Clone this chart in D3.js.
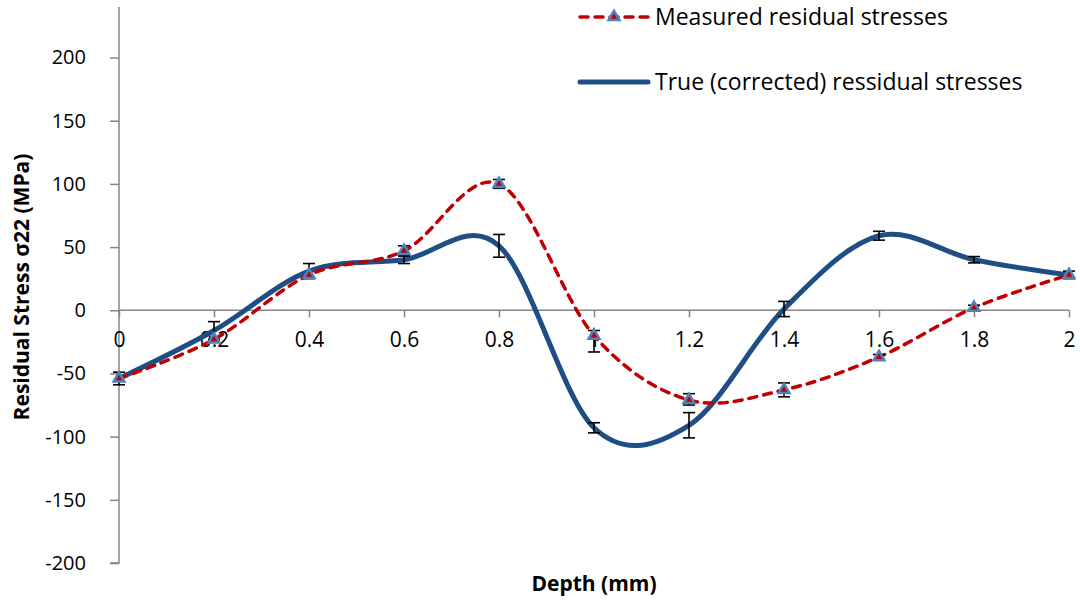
<!DOCTYPE html>
<html>
<head>
<meta charset="utf-8">
<script src="https://cdn.jsdelivr.net/npm/d3@7"></script>
<style>
  body { margin: 0; background: #fff; }
  text { font-family: "Open Sans", "Liberation Sans", sans-serif; fill: #000; }
</style>
</head>
<body>
<div id="chart"></div>
<script>
// data
var depth = [0, 0.2, 0.4, 0.6, 0.8, 1.0, 1.2, 1.4, 1.6, 1.8, 2.0];
var measured = [-54, -23, 28, 47, 100, -20, -71, -63, -37, 2, 28];
var measuredErrPlus = [5, 0, 0, 4, 3.5, 4, 5, 5.5, 2, 2, 3];
var measuredErrMinus = [5, 0, 0, 4, 3.5, 13, 4, 5.5, 2, 2, 3];
var trueStress = [-54, -16, 31, 40, 51, -93, -91, 1, 59, 40, 28];
var trueErr = [0, 7, 6, 3, 9, 4, 10, 6, 3.5, 2.5, 0];
var xTicks = [0, 0.2, 0.4, 0.6, 0.8, 1, 1.2, 1.4, 1.6, 1.8, 2];
var yTicks = [-200, -150, -100, -50, 0, 50, 100, 150, 200];

var width = 1080, height = 600;

var svg = d3.select("#chart").append("svg")
    .attr("width", width)
    .attr("height", height);

var x = d3.scaleLinear().domain([0, 2]).range([119, 1069]);
var y = d3.scaleLinear().domain([-200, 240]).range([563, 7]);

var axisColor = "#868686";

// y axis
var yAxis = svg.append("g")
    .attr("transform", "translate(" + x(0) + ",0)")
    .call(d3.axisLeft(y).tickValues(yTicks).tickSize(9).tickPadding(24).tickFormat(d3.format("d")));
yAxis.select(".domain").attr("stroke", axisColor).attr("stroke-width", 1.5)
    .attr("d", "M0," + y(240) + "V" + y(-200) + "H-9");
yAxis.selectAll(".tick line").attr("stroke", axisColor).attr("stroke-width", 1.5);
yAxis.selectAll(".tick text").style("font-size", "20px").attr("fill", "#000")
    .text(function(d) { return d < 0 ? "-" + Math.abs(d) : d; });

// x axis at y = 0
var xAxis = svg.append("g")
    .attr("transform", "translate(0," + y(0) + ")")
    .call(d3.axisBottom(x).tickValues(xTicks).tickSize(7).tickPadding(15)
      .tickFormat(function(d) { return d3.format("")(+d.toFixed(1)); }));
xAxis.select(".domain").attr("stroke", axisColor).attr("stroke-width", 1.5)
    .attr("d", "M" + x(0) + ",0H" + x(2));
xAxis.selectAll(".tick line").attr("stroke", axisColor).attr("stroke-width", 1.5);
xAxis.selectAll(".tick text").style("font-size", "21px").attr("fill", "#000");

// axis titles
svg.append("text")
    .attr("transform", "translate(29," + ((y(240) + y(-200)) / 2 + 2) + ") rotate(-90)")
    .attr("text-anchor", "middle")
    .style("font-size", "21px").style("font-weight", "bold")
    .text("Residual Stress σ22 (MPa)");

svg.append("text")
    .attr("x", (x(0) + x(2)) / 2)
    .attr("y", 591)
    .attr("text-anchor", "middle")
    .style("font-size", "21px").style("font-weight", "bold")
    .text("Depth (mm)");

var line = d3.line().curve(d3.curveCardinal.tension(0));

var truePts = depth.map(function(d, i) { return [x(d), y(trueStress[i])]; });
var measPts = depth.map(function(d, i) { return [x(d), y(measured[i])]; });

svg.append("path")
    .attr("d", line(truePts))
    .attr("fill", "none")
    .attr("stroke", "#1f4e85")
    .attr("stroke-width", 5)
    .attr("stroke-linecap", "round");

svg.append("path")
    .attr("d", line(measPts))
    .attr("fill", "none")
    .attr("stroke", "#c00000")
    .attr("stroke-width", 3.5)
    .attr("stroke-dasharray", "8,7")
    .attr("stroke-linecap", "round");

// error bars
function errorBars(vals, plus, minus) {
  var g = svg.append("g");
  depth.forEach(function(d, i) {
    if (!plus[i] && !minus[i]) return;
    var cx = x(d), top = y(vals[i] + plus[i]), bot = y(vals[i] - minus[i]);
    g.append("line").attr("x1", cx).attr("x2", cx).attr("y1", top).attr("y2", bot);
    g.append("line").attr("x1", cx - 6).attr("x2", cx + 6).attr("y1", top).attr("y2", top);
    g.append("line").attr("x1", cx - 6).attr("x2", cx + 6).attr("y1", bot).attr("y2", bot);
  });
  g.selectAll("line").attr("stroke", "#000").attr("stroke-width", 1.6);
}
errorBars(trueStress, trueErr, trueErr);
errorBars(measured, measuredErrPlus, measuredErrMinus);

// triangle markers
var tri = d3.symbol().type(d3.symbolTriangle).size(50);
svg.append("g").selectAll("path")
    .data(depth)
    .enter().append("path")
    .attr("d", tri)
    .attr("transform", function(d, i) { return "translate(" + x(d) + "," + y(measured[i]) + ")"; })
    .attr("fill", "#c00000")
    .attr("stroke", "#4f81bd")
    .attr("stroke-width", 2.5);

// legend
var legend = svg.append("g");
legend.append("line")
    .attr("x1", 580).attr("x2", 648).attr("y1", 17).attr("y2", 17)
    .attr("stroke", "#c00000").attr("stroke-width", 3.5)
    .attr("stroke-dasharray", "8,7").attr("stroke-linecap", "round");
legend.append("path")
    .attr("d", tri)
    .attr("transform", "translate(614,17)")
    .attr("fill", "#c00000").attr("stroke", "#4f81bd").attr("stroke-width", 2.5);
legend.append("text")
    .attr("x", 655).attr("y", 25)
    .style("font-size", "23px")
    .text("Measured residual stresses");
legend.append("line")
    .attr("x1", 580).attr("x2", 648).attr("y1", 82).attr("y2", 82)
    .attr("stroke", "#1f4e85").attr("stroke-width", 5).attr("stroke-linecap", "round");
legend.append("text")
    .attr("x", 655).attr("y", 90)
    .style("font-size", "23px")
    .text("True (corrected) ressidual stresses");
</script>
</body>
</html>
